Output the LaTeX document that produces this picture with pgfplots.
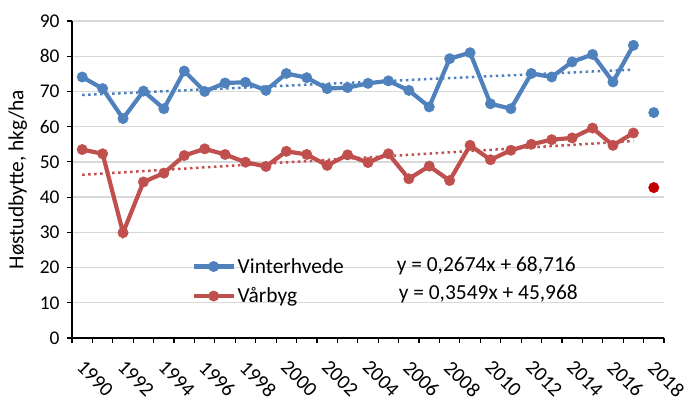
\documentclass[border=0pt]{standalone}
\usepackage{pgfplots}
\pgfplotsset{compat=1.18}
\usepackage{fontspec}
\setmainfont{Carlito}
\definecolor{hvede}{HTML}{4F81BD}
\definecolor{byg}{HTML}{C0504D}
\definecolor{byg18}{HTML}{C00000}
\definecolor{gitter}{HTML}{D9D9D9}
\newcommand{\stor}{\fontsize{21.5}{25}\selectfont}
\newcommand{\tickfont}{\fontsize{19.5}{22}\selectfont}
\newcommand{\xtickfont}{\fontsize{20.5}{23}\selectfont}
\begin{document}
\begin{tikzpicture}
\begin{axis}[
    scale only axis,
    width=592bp, height=317bp,
    xmin=1989.5, xmax=2018.5,
    ymin=0, ymax=90,
    axis x line*=bottom, axis y line*=left,
    axis line style={line width=1.2bp, black, -},
    xtick={1990,1992,1994,1996,1998,2000,2002,2004,2006,2008,2010,2012,2014,2016,2018},
    minor xtick={1989.5,1990.5,1991.5,1992.5,1993.5,1994.5,1995.5,1996.5,1997.5,1998.5,
                 1999.5,2000.5,2001.5,2002.5,2003.5,2004.5,2005.5,2006.5,2007.5,2008.5,
                 2009.5,2010.5,2011.5,2012.5,2013.5,2014.5,2015.5,2016.5,2017.5,2018.5},
    major x tick style={draw=none},
    minor x tick style={line width=1.2bp, black},
    y tick style={line width=1.2bp, black},
    tick align=outside,
    major tick length=5bp, minor tick length=5bp,
    ytick={0,10,...,90},
    ymajorgrids,
    grid style={line width=1.3bp, gitter},
    /pgf/number format/assume math mode=true,
    /pgf/number format/1000 sep={},
    xticklabel style={font=\xtickfont, inner sep=0pt, xshift=3bp, yshift=-16bp, rotate=-45, anchor=north west},
    yticklabel style={font=\tickfont, xshift=-4bp},
    ylabel={Høstudbytte, hkg/ha},
    ylabel style={font=\stor, yshift=6bp},
    legend style={draw=none, fill=none, font=\stor, at={(axis cs:1995.2,23.8)}, anchor=north west,
                  row sep=9bp, cells={anchor=west}},
    legend image code/.code={\draw[#1, mark repeat=2, mark phase=2] plot coordinates {(0bp,0bp) (20bp,0bp) (40bp,0bp)};},
    every axis plot/.append style={line width=4.2bp},
    clip=false,
]
% trend lines
\addplot[forget plot, hvede, line width=2.5bp, dash pattern=on 2.5bp off 3.5bp] coordinates {(1990,68.98) (2017,76.20)};
\addplot[forget plot, byg, line width=2.5bp, dash pattern=on 2.5bp off 3.5bp] coordinates {(1990,46.32) (2017,55.90)};

\addplot[hvede, mark=*, mark size=5.2bp, mark options={line width=0.5bp}] coordinates {
 (1990,74.1) (1991,70.8) (1992,62.3) (1993,70.1) (1994,65.1) (1995,75.8) (1996,70.0)
 (1997,72.4) (1998,72.6) (1999,70.3) (2000,75.1) (2001,73.9) (2002,70.8) (2003,71.1)
 (2004,72.3) (2005,73.0) (2006,70.3) (2007,65.6) (2008,79.3) (2009,81.0) (2010,66.5)
 (2011,65.1) (2012,75.1) (2013,74.1) (2014,78.4) (2015,80.5) (2016,72.7) (2017,83.1)
};
\addlegendentry{Vinterhvede}
\addplot[byg, mark=*, mark size=5.2bp, mark options={line width=0.5bp}] coordinates {
 (1990,53.5) (1991,52.3) (1992,29.9) (1993,44.3) (1994,46.8) (1995,51.8) (1996,53.7)
 (1997,52.1) (1998,49.9) (1999,48.7) (2000,53.0) (2001,52.1) (2002,49.0) (2003,52.0)
 (2004,49.8) (2005,52.3) (2006,45.2) (2007,48.8) (2008,44.7) (2009,54.7) (2010,50.6)
 (2011,53.3) (2012,55.0) (2013,56.3) (2014,56.8) (2015,59.6) (2016,54.7) (2017,58.2)
};
\addlegendentry{Vårbyg}
\addplot[forget plot, only marks, hvede, mark=*, mark size=5.2bp, mark options={line width=0.5bp}] coordinates {(2018,64.0)};
\addplot[forget plot, only marks, byg18, mark=*, mark size=5.2bp, mark options={line width=0.5bp}] coordinates {(2018,42.7)};

\node[anchor=west, font=\stor, inner sep=0pt] at (axis cs:2005.4,20.6) {y = 0,2674x + 68,716};
\node[anchor=west, font=\stor, inner sep=0pt] at (axis cs:2005.5,12.6) {y = 0,3549x + 45,968};
\end{axis}
\pgfresetboundingbox
\path[use as bounding box] ([xshift=-72bp,yshift=-63bp]current axis.south west)
    rectangle ([xshift=24bp,yshift=21bp]current axis.north east);
\end{tikzpicture}
\end{document}
